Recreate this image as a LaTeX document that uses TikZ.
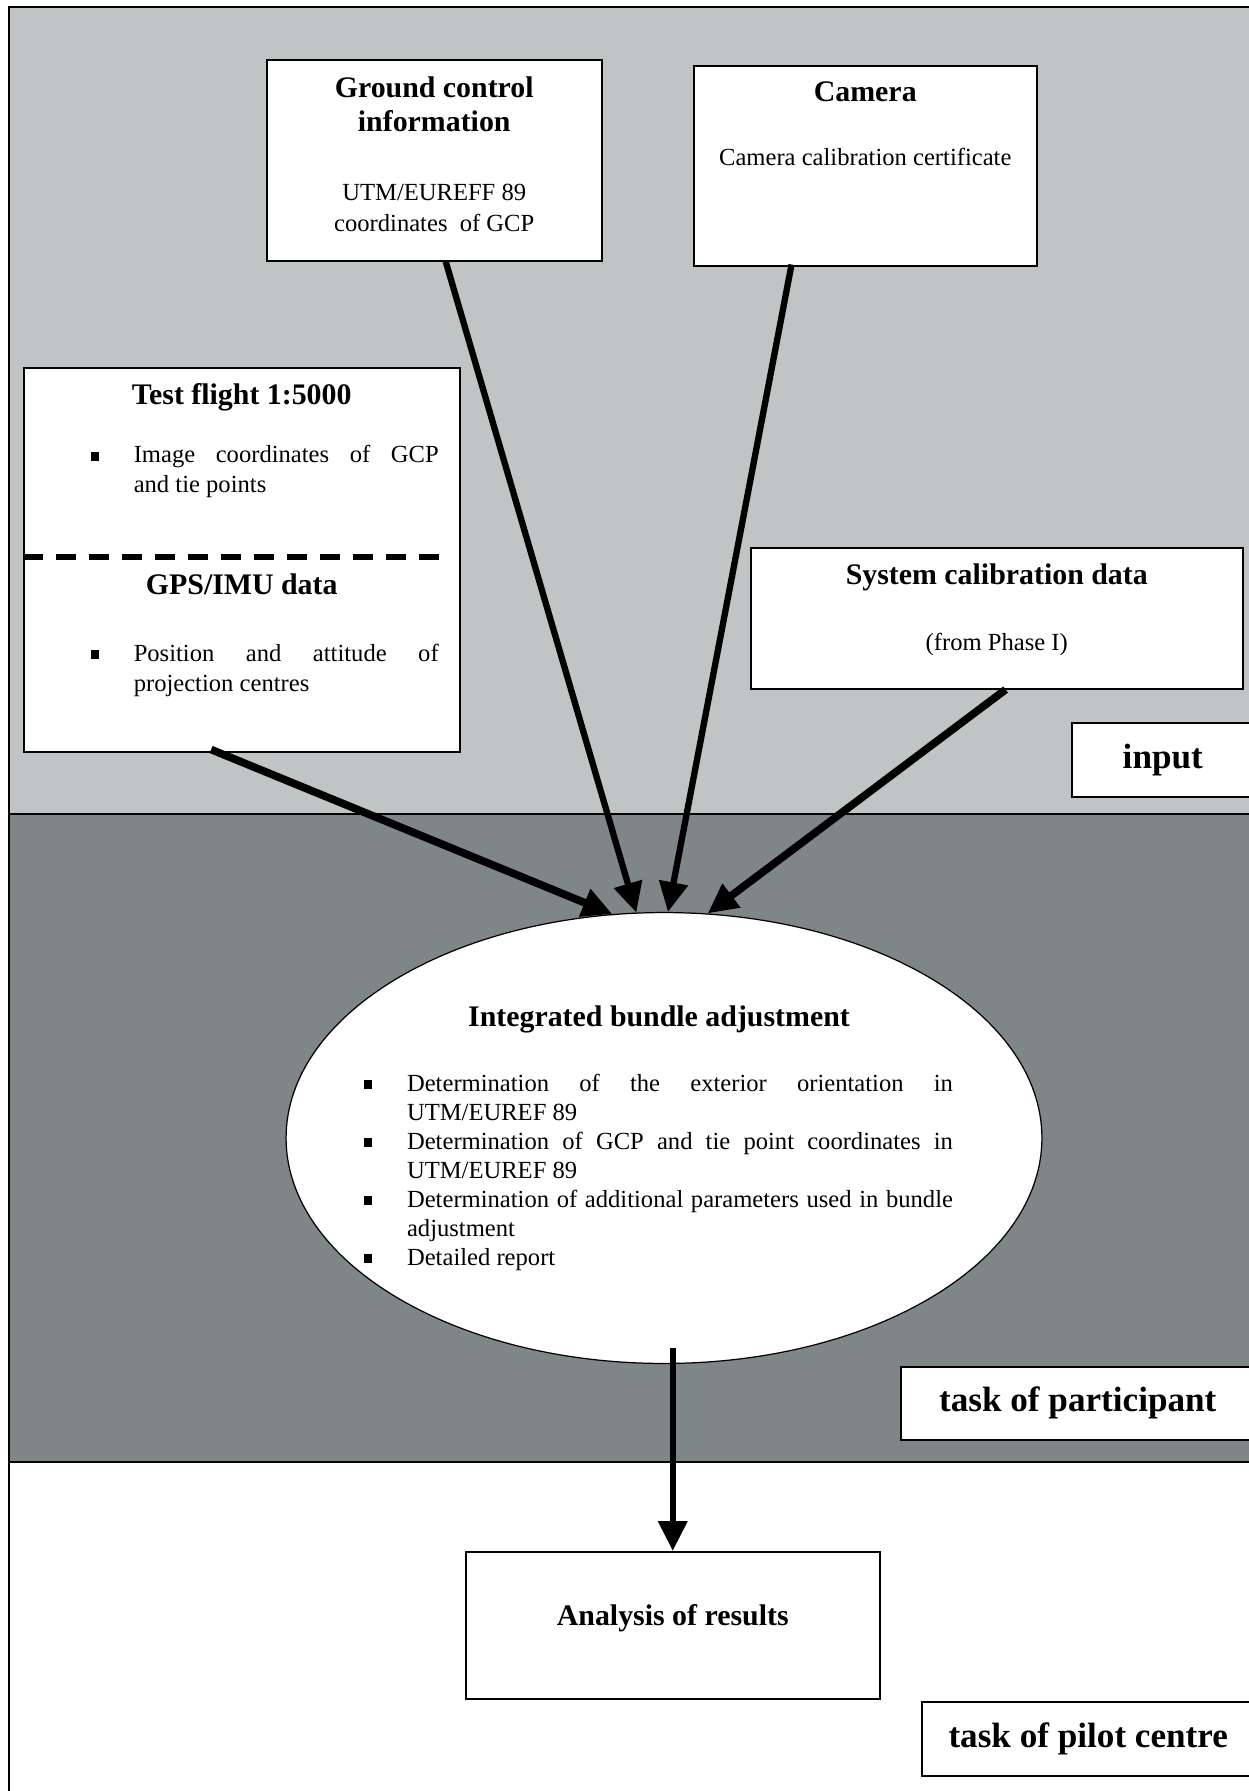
\documentclass[tikz,border=0pt]{standalone}
\usepackage{fontspec}
\setmainfont{Liberation Serif}
\usetikzlibrary{shapes.geometric,arrows.meta,calc}

\definecolor{inputgrey}{RGB}{192,196,196}
\definecolor{taskgrey}{RGB}{127,134,135}
\newcommand{\headfont}{\fontsize{17}{19.3}\selectfont\bfseries}
\newcommand{\bodyfont}{\fontsize{14}{17.6}\selectfont}
\newcommand{\sqitem}[1]{\par\hangindent=0.84cm\hangafter=1\noindent\makebox[0.84cm][l]{\hspace*{-0.5pt}\rule[1.2pt]{4.6pt}{5pt}}#1\par}
\newcommand{\nosize}[1]{\makebox[0pt]{\vbox to 0pt{\vss\hbox{#1}\vss}}}

\begin{document}
\begin{tikzpicture}[x=0.02cm,y=-0.02cm,
  box/.style={draw, fill=white, line width=0.9pt, inner sep=0pt, anchor=north west},
  tag/.style={draw, fill=white, line width=0.9pt, anchor=north west, inner sep=0pt, font=\fontsize{20}{24}\selectfont\bfseries},
  feed/.style={line width=3.6pt, -{Triangle[length=17pt,width=16pt]}}]
\useasboundingbox (0,0) rectangle (1248,1791);

% bands
\draw[fill=inputgrey, line width=0.8pt] (9,7) rectangle (1262,814);
\draw[fill=taskgrey, line width=0.8pt] (9,814) rectangle (1262,1462);
\draw[fill=white, line width=0.8pt] (9,1462) rectangle (1262,1800);

% input boxes
\node[box] (gcp) at (266,59) {\parbox[c][4.02cm][t]{6.70cm}{\centering\vspace*{9.5pt}{\headfont Ground control\\ information\par}\vspace{21.7pt}{\bodyfont UTM/EUREFF 89\\ coordinates\ \ of GCP\par}}};
\node[box] (cam) at (693,65) {\parbox[c][4.00cm][t]{6.86cm}{\centering\vspace*{9pt}{\headfont Camera\par}\vspace{18.8pt}{\bodyfont Camera calibration certificate\par}}};
\node[box] (flight) at (23,367) {\parbox[c][7.68cm][t]{8.72cm}{\vspace*{9pt}{\centering\headfont Test flight 1:5000\par}\vspace{16pt}{\bodyfont\fontsize{14}{17}\selectfont\leftskip=1.36cm\rightskip=0.42cm
  \sqitem{Image coordinates of GCP\linebreak and tie points}}\vspace{38.7pt}{\centering\headfont GPS/IMU data\par}\vspace{21pt}{\bodyfont\fontsize{14}{17}\selectfont\leftskip=1.36cm\rightskip=0.42cm
  \sqitem{Position and attitude of\linebreak projection centres}}}};
\node[box] (syscal) at (750,547) {\parbox[c][2.82cm][t]{9.84cm}{\centering\vspace*{9pt}{\headfont System calibration data\par}\vspace{20pt}{\bodyfont (from Phase I)\par}}};
\draw[line width=3.2pt, dash pattern=on 0.40cm off 0.26cm] ($(flight.north west)+(0,190)$) -- ($(flight.north east)+(-11,190)$);

% adjustment and results
\node[ellipse, draw, fill=white, line width=0.7pt, minimum width=15.12cm, minimum height=9.02cm, inner sep=0pt] (bundle) at (664,1138) {\nosize{\hspace*{-0.2cm}\parbox{11.76cm}{{\centering\headfont Integrated bundle adjustment\par}\vspace{20.5pt}\fontsize{14}{16.5}\selectfont
  \sqitem{Determination of the exterior orientation in\linebreak UTM/EUREF 89}
  \sqitem{Determination of GCP and tie point coordinates in\linebreak UTM/EUREF 89}
  \sqitem{Determination of additional parameters used in bundle\linebreak adjustment}
  \sqitem{Detailed report}}}};
\node[box] (analysis) at (465,1551) {\parbox[c][2.94cm][t]{8.28cm}{\centering\vspace*{30pt}{\headfont Analysis of results\par}}};

% band tags
\node[tag, minimum width=3.64cm, minimum height=1.48cm] (input) at (1071,722) {input};
\node[tag, minimum width=7.08cm, minimum height=1.46cm] (participant) at (900,1366) {task of participant};
\node[tag, minimum width=6.66cm, minimum height=1.48cm] (pilot) at (921,1701) {task of pilot centre};

% arrows
\draw[feed, line width=4.4pt] ($(flight.south west)!0.43!(flight.south east)+(0,-3)$) -- (bundle.103);
\draw[feed] ($(gcp.south west)!0.534!(gcp.south east)$) -- (bundle.97);
\draw[feed] ($(cam.south west)!0.286!(cam.south east)+(0,-2)$) -- (bundle.89);
\draw[feed, line width=4.4pt] ($(syscal.south west)!0.518!(syscal.south east)$) -- (bundle.79);
\draw[feed] ($(bundle.south -| analysis.north)+(0,-16)$) -- (analysis.north);
\end{tikzpicture}
\end{document}
